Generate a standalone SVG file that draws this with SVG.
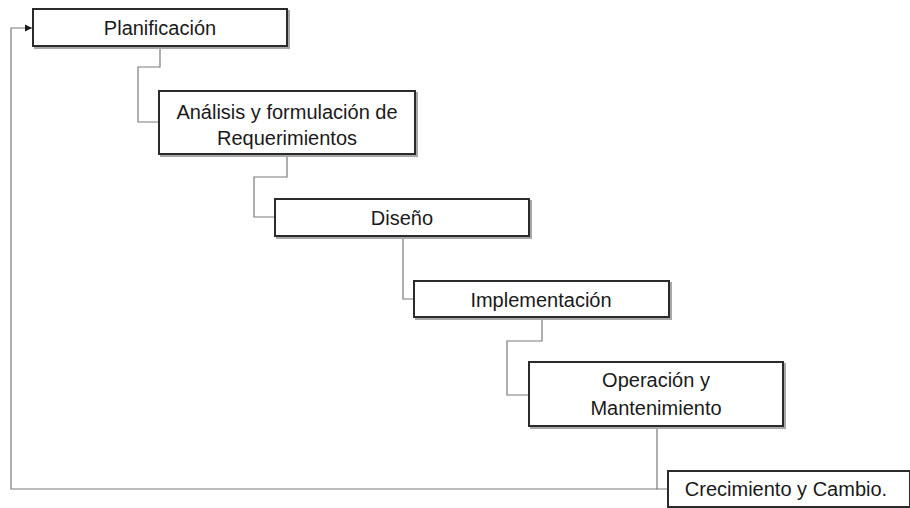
<svg xmlns="http://www.w3.org/2000/svg" width="910" height="508" viewBox="0 0 910 508">
<style>
.box{fill:#ffffff;stroke:#2b2b2b;stroke-width:2}
.shadow{fill:none;stroke:#a8a8a8;stroke-width:2}
.lbl{font-family:"Liberation Sans",Arial,sans-serif;font-size:20px;fill:#1a1a1a;text-anchor:middle}
.conn{fill:none;stroke:#7a7a7a;stroke-width:1.2}
</style>
<defs>
<marker id="arr" markerWidth="8" markerHeight="8" refX="7" refY="4" orient="auto" markerUnits="userSpaceOnUse">
<path d="M0,0.5 L7,4 L0,7.5 Z" fill="#1a1a1a"/>
</marker>
</defs>
<rect width="910" height="508" fill="#ffffff"/>
<g id="connectors">
<polyline class="conn" points="160,46 160,67 138,67 138,122 159,122"/>
<polyline class="conn" points="287,154 287,177 254,177 254,217 275,217"/>
<polyline class="conn" points="403,236 403,299 414,299"/>
<polyline class="conn" points="542,317 542,341 507,341 507,395 529,395"/>
<polyline class="conn" points="657,426 657,489 668,489"/>
<polyline class="conn" points="657,489 11,489 11,28 32,28" marker-end="url(#arr)"/>
</g>
<g id="planificacion">
<rect class="shadow" x="35" y="11" width="254" height="37"/>
<rect class="box" x="33" y="9" width="254" height="37"/>
<text class="lbl" x="160" y="35">Planificación</text>
</g>
<g id="analisis">
<rect class="shadow" x="161" y="93" width="256" height="63"/>
<rect class="box" x="159" y="91" width="256" height="63"/>
<text class="lbl" x="287" y="119">Análisis y formulación de</text>
<text class="lbl" x="287" y="145">Requerimientos</text>
</g>
<g id="diseno">
<rect class="shadow" x="277" y="201" width="254" height="37"/>
<rect class="box" x="275" y="199" width="254" height="37"/>
<text class="lbl" x="402" y="225">Diseño</text>
</g>
<g id="implementacion">
<rect class="shadow" x="416" y="283" width="255" height="36"/>
<rect class="box" x="414" y="281" width="255" height="36"/>
<text class="lbl" x="541" y="307">Implementación</text>
</g>
<g id="operacion">
<rect class="shadow" x="531" y="364" width="254" height="64"/>
<rect class="box" x="529" y="362" width="254" height="64"/>
<text class="lbl" x="656" y="387">Operación y</text>
<text class="lbl" x="656" y="415">Mantenimiento</text>
</g>
<g id="crecimiento">
<rect class="shadow" x="670" y="473" width="242" height="36"/>
<rect class="box" x="668" y="471" width="242" height="36"/>
<text class="lbl" x="786" y="496">Crecimiento y Cambio.</text>
</g>
</svg>
